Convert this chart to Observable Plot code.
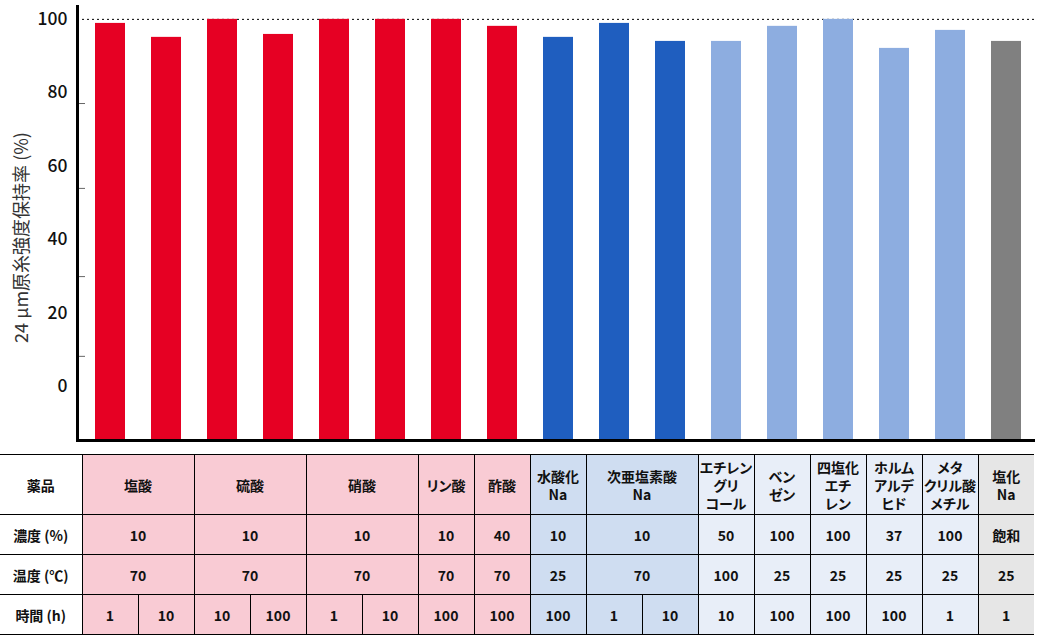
<!DOCTYPE html>
<html>
<head>
<meta charset="utf-8">
<script src="https://cdn.jsdelivr.net/npm/d3@7"></script>
<script src="https://cdn.jsdelivr.net/npm/@observablehq/plot@0.6"></script>
<style>
  html, body { margin: 0; padding: 0; background: #fff; }
  #wrap { position: relative; width: 1040px; height: 643px; font-family: "Noto Sans CJK JP", "Noto Sans", sans-serif; }
  #chart svg { display: block; }
  table { position: absolute; left: 0; top: 454px; border-collapse: collapse; table-layout: fixed; width: 1034px;
          font-family: "Noto Sans CJK JP", sans-serif; font-weight: 700; font-size: 14px; color: #111;
          font-feature-settings: "palt"; }
  td { border-top: 1px solid #000; border-bottom: 1px solid #000; border-left: 1px solid #000; text-align: center;
       vertical-align: middle; padding: 0; line-height: 18px; white-space: nowrap; overflow: hidden; }
  td.rowhead { border-left: none; background: #fff; }
</style>
</head>
<body>
<div id="wrap">
  <div id="chart"></div>
</div>
<script>
// ---- data ----
const chemicals = ["塩酸","塩酸","硫酸","硫酸","硝酸","硝酸","リン酸","酢酸","水酸化Na","次亜塩素酸Na","次亜塩素酸Na","エチレングリコール","ベンゼン","四塩化エチレン","ホルムアルデヒド","メタクリル酸メチル","塩化Na"];
const retention = [98.9, 95.1, 100, 95.9, 100, 100, 100, 98.1, 95.1, 98.9, 94.0, 94.0, 98.1, 100, 92.1, 97.0, 94.0];
const groups = ["acid","acid","acid","acid","acid","acid","acid","acid","alkali","alkali","alkali","organic","organic","organic","organic","organic","salt"];
const groupNames = ["acid","alkali","organic","salt"];
const barColors = ["#e60023","#1f5ebf","#8dade0","#808080"];
const cellColors = ["#f9cbd4","#cfddf1","#e8eef8","#e6e6e6"];
const yLabels = [0, 20, 40, 60, 80, 100];
const yTickMarks = [8.3, 30.0, 54.0, 77.1];
const yDomain = [-14.6, 103.5];
const yTitle = "24 µm原糸強度保持率 (%)";

// table
const rowLabels = ["薬品", "濃度 (%)", "温度 (℃)", "時間 (h)"];
const chemicalCells = [["塩酸",2],["硫酸",2],["硝酸",2],["リン酸",1],["酢酸",1],["水酸化\nNa",1],["次亜塩素酸\nNa",2],["エチレン\nグリ\nコール",1],["ベン\nゼン",1],["四塩化\nエチ\nレン",1],["ホルム\nアルデ\nヒド",1],["メタ\nクリル酸\nメチル",1],["塩化\nNa",1]];
const concCells = [["10",2],["10",2],["10",2],["10",1],["40",1],["10",1],["10",2],["50",1],["100",1],["100",1],["37",1],["100",1],["飽和",1]];
const tempCells = [["70",2],["70",2],["70",2],["70",1],["70",1],["25",1],["70",2],["100",1],["25",1],["25",1],["25",1],["25",1],["25",1]];
const timeCells = [["1",1],["10",1],["10",1],["100",1],["1",1],["10",1],["100",1],["100",1],["100",1],["1",1],["10",1],["10",1],["100",1],["100",1],["100",1],["1",1],["1",1]];
const tableRows = [chemicalCells, concCells, tempCells, timeCells];
const rowHeights = [60, 40, 40, 40];

// ---- chart ----
const data = chemicals.map((c, i) => ({i, chemical: c, value: retention[i], group: groups[i]}));

const chart = Plot.plot({
  width: 1040,
  height: 450,
  marginLeft: 77,
  marginRight: 5,
  marginTop: 6,
  marginBottom: 10,
  style: {fontFamily: "'Noto Sans CJK JP', sans-serif", color: "#111", background: "transparent"},
  x: {type: "band", domain: d3.range(chemicals.length), paddingInner: 0.46, paddingOuter: 0.23, insetLeft: 5, axis: null},
  y: {domain: yDomain, axis: null},
  color: {domain: groupNames, range: barColors},
  marks: [
    Plot.ruleY([100], {stroke: "#000", strokeDasharray: "2,3", strokeWidth: 1}),
    Plot.barY(data, {x: "i", y1: yDomain[0], y2: "value", fill: "group"}),
    Plot.axisY({ticks: yTickMarks, tickSize: -8, tickFormat: () => "", stroke: "#666", label: null}),
    Plot.axisY({ticks: yLabels, tickSize: 0, tickPadding: 10, fontSize: 17.5, fontWeight: 500, label: null}),
    Plot.text([yTitle], {text: d => d, frameAnchor: "left", rotate: -90, dx: -55, dy: 14,
                         fontSize: 18, fill: "#333", textAnchor: "middle", lineAnchor: "middle"}),
    Plot.ruleY([yDomain[0]], {stroke: "#000", strokeWidth: 3}),
    Plot.frame({anchor: "left", stroke: "#000", strokeWidth: 3})
  ]
});
document.getElementById("chart").appendChild(chart);

// ---- table ----
const table = d3.select("#wrap").append("table");
const colgroup = table.append("colgroup");
colgroup.append("col").style("width", "82px");
for (let k = 0; k < chemicals.length; k++) colgroup.append("col").style("width", "56px");

tableRows.forEach((cells, r) => {
  const tr = table.append("tr").style("height", rowHeights[r] + "px");
  tr.append("td").attr("class", "rowhead").text(rowLabels[r]);
  let col = 0;
  cells.forEach(([text, span]) => {
    const g = groups[col];
    tr.append("td")
      .attr("colspan", span)
      .style("background", cellColors[groupNames.indexOf(g)])
      .html(text.split("\n").join("<br>"));
    col += span;
  });
});
</script>
</body>
</html>
